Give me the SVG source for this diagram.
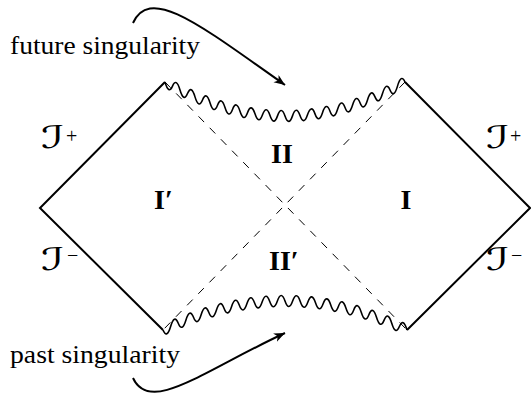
<svg xmlns="http://www.w3.org/2000/svg" width="531" height="394" viewBox="0 0 531 394">
<style>
.bd{fill:none;stroke:#000;stroke-width:2;stroke-linejoin:miter}
.wv{fill:none;stroke:#000;stroke-width:1.6}
.dash{fill:none;stroke:#000;stroke-width:1;stroke-dasharray:8 8}
.arr{fill:none;stroke:#000;stroke-width:2}
.lbl{font-family:"Liberation Serif","Times New Roman",serif;font-size:25px;fill:#000}
.reg{font-family:"Liberation Serif","Times New Roman",serif;font-size:28px;font-weight:bold;fill:#000}
.scr{font-family:"DejaVu Serif","DejaVu Sans",serif;font-size:31px;font-style:italic;fill:#000}
.sup{font-family:"Liberation Serif","DejaVu Serif",serif;font-size:20px;fill:#000}
</style>
<defs>
<marker id="ah" markerWidth="12" markerHeight="10" refX="11" refY="4.5" orient="auto" markerUnits="userSpaceOnUse">
<path d="M0,0 L11,4.5 L0,9 L3,4.5 z" fill="#000"/>
</marker>
</defs>
<rect width="531" height="394" fill="#fff"/>
<g id="connectors">
<path id="horizons" class="dash" d="M165,82 L407,330 M405,82 L163,330"/>
<path id="future-singularity" class="wv" d="M165,82 Q168.75,95 172.5,86.12 T180,89.97 T187.5,93.55 T195,96.87 T202.5,99.93 T210,102.72 T217.5,105.24 T225,107.5 T232.5,109.49 T240,111.22 T247.5,112.68 T255,113.87 T262.5,114.8 T270,115.47 T277.5,115.87 T285,116 T292.5,115.87 T300,115.47 T307.5,114.8 T315,113.87 T322.5,112.68 T330,111.22 T337.5,109.49 T345,107.5 T352.5,105.24 T360,102.72 T367.5,99.93 T375,96.87 T382.5,93.55 T390,89.97 T397.5,86.12 T405,82"/>
<path id="past-singularity" class="wv" d="M163,330 Q166.81,339.25 170.625,326.49 T178.25,323.2 T185.875,320.15 T193.5,317.31 T201.125,314.71 T208.75,312.33 T216.375,310.18 T224,308.25 T231.625,306.55 T239.25,305.08 T246.875,303.83 T254.5,302.81 T262.125,302.02 T269.75,301.45 T277.375,301.11 T285,301 T292.625,301.11 T300.25,301.45 T307.875,302.02 T315.5,302.81 T323.125,303.83 T330.75,305.08 T338.375,306.55 T346,308.25 T353.625,310.18 T361.25,312.33 T368.875,314.71 T376.5,317.31 T384.125,320.15 T391.75,323.2 T399.375,326.49 T407,330"/>
<path id="left-boundary" class="bd" d="M165,82 L40,208 L163,330"/>
<path id="right-boundary" class="bd" d="M405,82 L530,208 L407,330"/>
<path id="arrow-future" class="arr" marker-end="url(#ah)" d="M133,23 C150,-15 200,25 285,85"/>
<path id="arrow-past" class="arr" marker-end="url(#ah)" d="M133,378 C150,415 205,370 285,333"/>
</g>
<g id="label-future"><text class="lbl" x="10" y="54" textLength="190" lengthAdjust="spacingAndGlyphs">future singularity</text></g>
<g id="label-past"><text class="lbl" x="10" y="363" textLength="170" lengthAdjust="spacingAndGlyphs">past singularity</text></g>
<g id="region-II"><text class="reg" x="282" y="163" text-anchor="middle">II</text></g>
<g id="region-IIp"><text class="reg" x="269" y="270">II′</text></g>
<g id="region-Ip"><text class="reg" x="154" y="209">I′</text></g>
<g id="region-I"><text class="reg" x="406" y="209" text-anchor="middle">I</text></g>
<g id="scri-plus-left"><text class="scr" x="41" y="148" textLength="24" lengthAdjust="spacingAndGlyphs">ℐ</text><text class="sup" x="66" y="143">+</text></g>
<g id="scri-minus-left"><text class="scr" x="41" y="270" textLength="24" lengthAdjust="spacingAndGlyphs">ℐ</text><text class="sup" x="67" y="262">−</text></g>
<g id="scri-plus-right"><text class="scr" x="486" y="148" textLength="24" lengthAdjust="spacingAndGlyphs">ℐ</text><text class="sup" x="510" y="143">+</text></g>
<g id="scri-minus-right"><text class="scr" x="486" y="270" textLength="24" lengthAdjust="spacingAndGlyphs">ℐ</text><text class="sup" x="511" y="262">−</text></g>
</svg>
